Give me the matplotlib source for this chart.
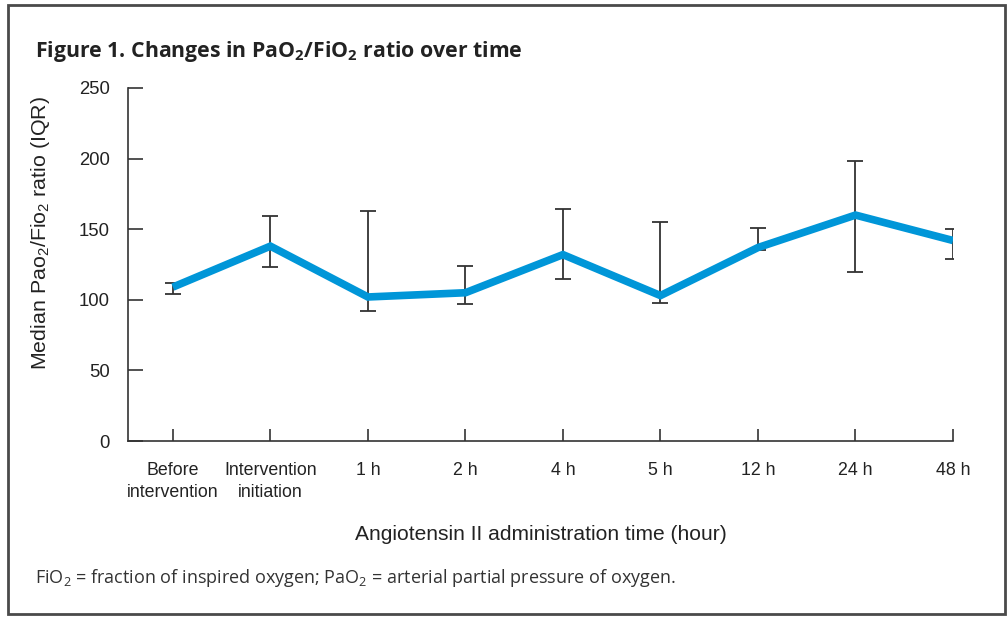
import matplotlib
matplotlib.use("Agg")
import matplotlib.pyplot as plt
from matplotlib.patches import Rectangle

categories = ["Before\nintervention", "Intervention\ninitiation", "1 h", "2 h", "4 h",
              "5 h", "12 h", "24 h", "48 h"]
median = [109, 138, 102, 105, 132, 103, 137, 160, 142]
q1 = [104, 123, 92, 97, 115, 98, 135, 120, 129]
q3 = [112, 159, 163, 124, 164, 155, 151, 198, 150]
y_ticks = [0, 50, 100, 150, 200, 250]

W, H = 1007, 617
fig = plt.figure(figsize=(W / 100, H / 100), dpi=100)
fig.patch.set_facecolor("white")

# outer frame
fig.add_artist(Rectangle((7.5 / W, 1 - 614 / H), (1005 - 7.5) / W, (614 - 5) / H,
                         transform=fig.transFigure, fill=False,
                         edgecolor="#4a4a4a", linewidth=2))

ax = fig.add_axes([128 / W, 1 - 441 / H, (953 - 128) / W, (441 - 88) / H])
x = list(range(len(categories)))
lower = [m - a for m, a in zip(median, q1)]
upper = [b - m for m, b in zip(median, q3)]
ax.errorbar(x, median, yerr=[lower, upper], fmt="none", ecolor="#333333",
            elinewidth=1.3, capsize=6, capthick=1.3, zorder=2)
ax.plot(x, median, color="#0096d8", linewidth=5.5, solid_joinstyle="miter",
        solid_capstyle="butt", zorder=3)

ax.set_xlim(-0.46, 8.0)
ax.set_ylim(0, 250)
ax.set_yticks(y_ticks)
ax.set_xticks(x)
ax.set_xticklabels(categories, fontfamily="Liberation Sans", fontsize=12.8,
                   color="#222222", linespacing=1.4)
ax.set_yticklabels([str(v) for v in y_ticks], fontfamily="Liberation Sans",
                   fontsize=13.3, color="#222222")
for s in ["top", "right"]:
    ax.spines[s].set_visible(False)
for s in ["left", "bottom"]:
    ax.spines[s].set_color("#333333")
    ax.spines[s].set_linewidth(1.2)
ax.tick_params(axis="y", direction="in", length=11, width=1.2, color="#333333", pad=13)
ax.tick_params(axis="x", direction="in", length=9, width=1.2, color="#333333", pad=15)

ax.set_xlabel("Angiotensin II administration time (hour)", fontfamily="Liberation Sans",
              fontsize=15.1, color="#222222", labelpad=17)
ax.set_ylabel(r"Median Pao$\mathregular{_2}$/Fio$\mathregular{_2}$ ratio (IQR)",
              fontfamily="Liberation Sans", fontsize=15.4, color="#222222", labelpad=12)
ax.yaxis.set_label_coords(-0.092, 0.59)

fig.text(35 / W, 1 - 52 / H,
         r"Figure 1. Changes in PaO$\mathregular{_2}$/FiO$\mathregular{_2}$ ratio over time",
         fontfamily="Open Sans", fontweight="bold", fontsize=15.3, color="#222222",
         va="center", ha="left")
fig.text(35 / W, 1 - 578 / H,
         r"FiO$\mathregular{_2}$ = fraction of inspired oxygen; PaO$\mathregular{_2}$ = arterial partial pressure of oxygen.",
         fontfamily="Open Sans", fontsize=13.0, color="#333333", va="center", ha="left")

fig.savefig("out.png", dpi=100, facecolor="white")
